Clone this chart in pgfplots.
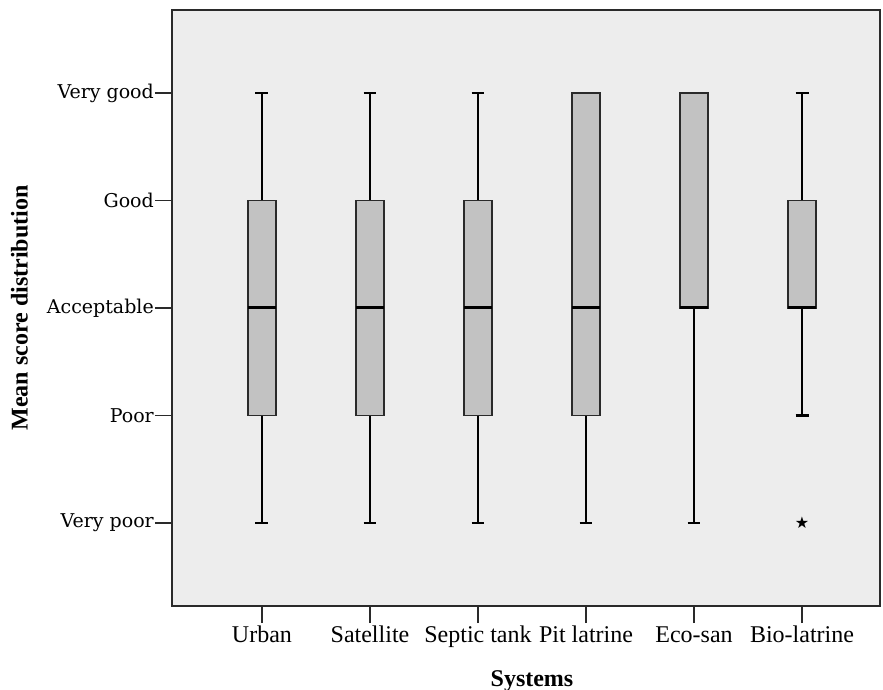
\documentclass[border=0pt]{standalone}
\usepackage{fontspec}
\setmainfont{Liberation Serif}
\newfontfamily\dejaserif{DejaVu Serif}
\newfontfamily\dejasans{DejaVu Sans}
\usepackage{pgfplots}
\pgfplotsset{compat=1.18}
\usepgfplotslibrary{statistics}
\definecolor{bgplot}{HTML}{EDEDED}
\definecolor{boxfill}{HTML}{C2C2C2}
\definecolor{linec}{HTML}{2A2A2A}
\begin{document}
\begin{tikzpicture}
\begin{axis}[
  scale only axis,
  width=708pt, height=596pt,
  xmin=0.167, xmax=6.722,
  ymin=0.228, ymax=5.772,
  axis background/.style={fill=bgplot},
  axis line style={draw=linec, line width=1.5pt},
  tick align=outside,
  major tick length=17pt,
  tick style={draw=linec, line width=1.5pt},
  xtick={1,2,3,4,5,6},
  xticklabels={Urban,Satellite,Septic tank,Pit latrine,Eco-san,Bio-latrine},
  ytick={1,2,3,4,5},
  yticklabels={Very poor,Poor,Acceptable,Good,Very good},
  xtick pos=bottom, ytick pos=left,
  x tick label style={font=\fontsize{24}{24}\selectfont, inner sep=2pt, text height=17pt, text depth=5pt},
  y tick label style={font=\dejaserif\fontsize{19}{19}\selectfont, inner sep=1pt},
  xlabel={Systems},
  ylabel={Mean score distribution},
  xlabel style={font=\bfseries\fontsize{24}{24}\selectfont, at={(axis description cs:0.5,0)}, anchor=base, yshift=-80pt, xshift=6pt, inner sep=0pt},
  ylabel style={font=\bfseries\fontsize{24}{24}\selectfont, at={(axis description cs:0,0.5)}, anchor=south, yshift=144pt, inner sep=0pt},
  boxplot/draw direction=y,
  boxplot/box extend=0.26,
  boxplot/whisker extend=0.12,
  boxplot/every box/.style={draw=linec, fill=boxfill, line width=1.5pt},
  boxplot/every median/.style={draw=black, line width=3pt},
  boxplot/every whisker/.style={draw=black, line width=2.5pt},
]
\addplot[boxplot prepared={lower whisker=1, lower quartile=2, median=3, upper quartile=4, upper whisker=5, draw position=1}] coordinates {};
\addplot[boxplot prepared={lower whisker=1, lower quartile=2, median=3, upper quartile=4, upper whisker=5, draw position=2}] coordinates {};
\addplot[boxplot prepared={lower whisker=1, lower quartile=2, median=3, upper quartile=4, upper whisker=5, draw position=3}] coordinates {};
\addplot[boxplot prepared={lower whisker=1, lower quartile=2, median=3, upper quartile=5, upper whisker=5, draw position=4}] coordinates {};
\addplot[boxplot prepared={lower whisker=1, lower quartile=3, median=3, upper quartile=5, upper whisker=5, draw position=5}] coordinates {};
\addplot[boxplot prepared={lower whisker=2, lower quartile=3, median=3, upper quartile=4, upper whisker=5, draw position=6}] coordinates {};
% outlier
\addplot[only marks, mark=text, text mark={\dejasans\fontsize{16}{16}\selectfont ★}, text mark as node=true] coordinates {(6,1)};
\end{axis}
\pgfresetboundingbox
\path (current axis.south west) ++(-172pt,-84pt) rectangle ++(883pt,690pt);
\end{tikzpicture}
\end{document}
